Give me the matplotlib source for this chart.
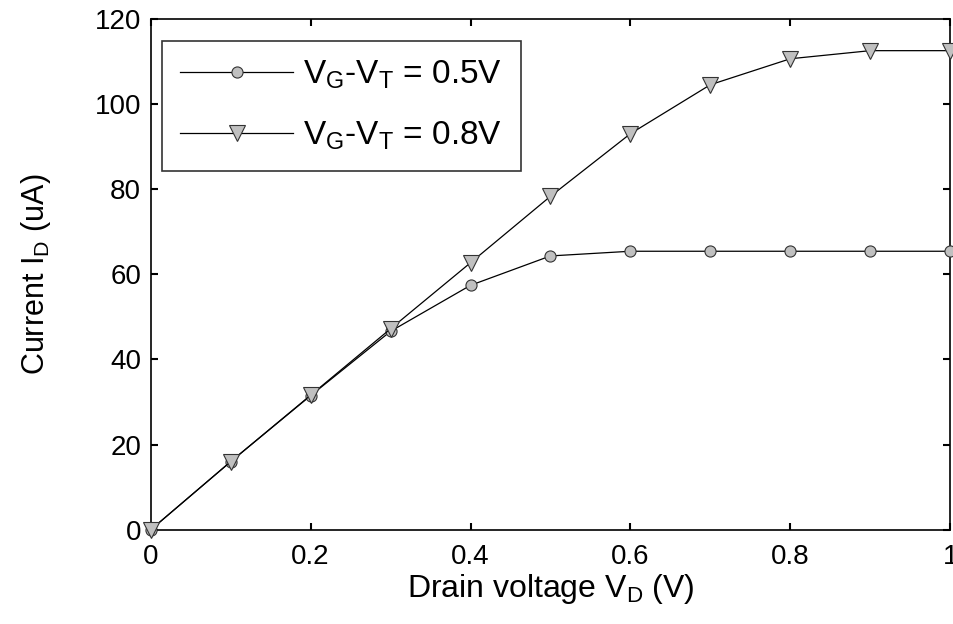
import matplotlib.pyplot as plt
import numpy as np

plt.rcParams['font.family'] = 'Liberation Sans'
plt.rcParams['mathtext.fontset'] = 'custom'
plt.rcParams['mathtext.rm'] = 'Liberation Sans'
plt.rcParams['mathtext.it'] = 'Liberation Sans'

# drain voltage sweep
vd = [0.0, 0.1, 0.2, 0.3, 0.4, 0.5, 0.6, 0.7, 0.8, 0.9, 1.0]
# current for VG-VT = 0.5 V
id_05 = [0.0, 16.0, 31.5, 46.6, 57.4, 64.3, 65.4, 65.4, 65.4, 65.4, 65.4]
# current for VG-VT = 0.8 V
id_08 = [0.0, 16.0, 31.6, 47.2, 62.7, 78.3, 93.0, 104.5, 110.6, 112.5, 112.5]

labels = [r'$\mathregular{V_G}$-$\mathregular{V_T}$ = 0.5V',
          r'$\mathregular{V_G}$-$\mathregular{V_T}$ = 0.8V']
xticks = [0, 0.2, 0.4, 0.6, 0.8, 1]
xticklabels = ['0', '0.2', '0.4', '0.6', '0.8', '1']
yticks = [0, 20, 40, 60, 80, 100, 120]

fig = plt.figure(figsize=(9.54, 6.24), dpi=100)
ax = fig.add_axes([0.158, 0.151, 0.838, 0.819])

ax.plot(vd, id_05, color='black', lw=0.9, marker='o', markersize=8,
        markerfacecolor='#c0c0c0', markeredgecolor='#333333', markeredgewidth=0.8,
        label=labels[0], clip_on=False, zorder=3)
ax.plot(vd, id_08, color='black', lw=0.9, marker='v', markersize=11,
        markerfacecolor='#c0c0c0', markeredgecolor='#333333', markeredgewidth=0.8,
        label=labels[1], clip_on=False, zorder=3)

ax.set_xlim(0, 1)
ax.set_ylim(0, 120)
ax.set_xticks(xticks)
ax.set_xticklabels(xticklabels)
ax.set_yticks(yticks)
ax.tick_params(direction='in', length=5, width=1.5, labelsize=20,
               top=True, right=True, pad=7)
ax.tick_params(axis='x', pad=10)
for s in ax.spines.values():
    s.set_linewidth(1.2)

ax.set_xlabel(r'Drain voltage $\mathregular{V_D}$ (V)', fontsize=23, labelpad=2)
ax.set_ylabel(r'Current $\mathregular{I_D}$ (uA)', fontsize=22, labelpad=30)

leg = ax.legend(loc='upper left', fontsize=24, frameon=True, fancybox=False,
                edgecolor='black', handlelength=3.4, borderpad=0.55,
                labelspacing=0.86, handletextpad=0.3, borderaxespad=0,
                bbox_to_anchor=(0.0138, 0.957))
leg.get_frame().set_linewidth(1.2)

plt.savefig('out.png', dpi=100)
